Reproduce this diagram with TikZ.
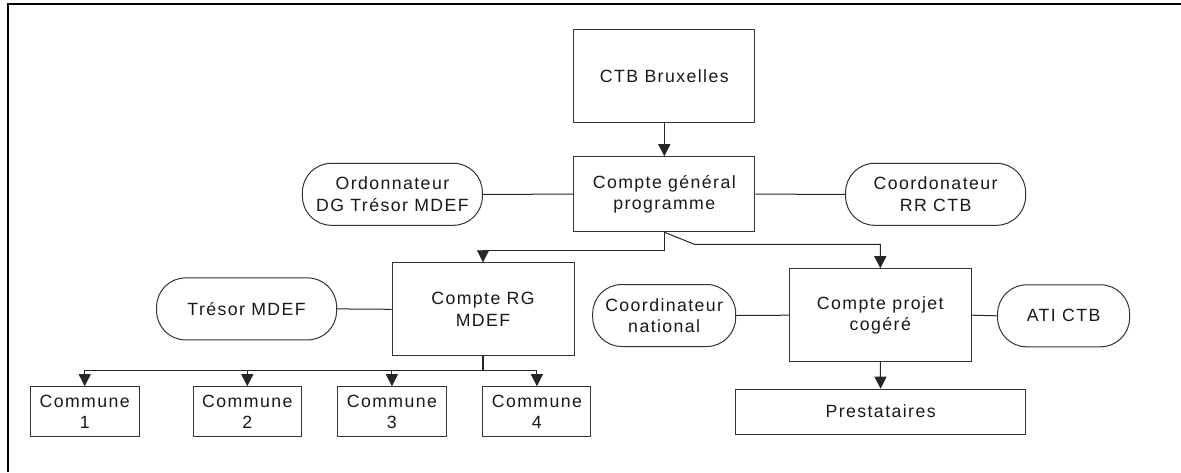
\documentclass[tikz,border=0pt]{standalone}
\usepackage{fontspec}
\setmainfont{Liberation Sans}[LetterSpace=8]
\usetikzlibrary{arrows.meta}
\begin{document}
\begin{tikzpicture}[x=1pt,y=-1pt,
  every node/.style={font=\fontsize{17.7}{21.5}\selectfont, text=black!90, align=center, inner sep=0pt},
  box/.style={draw=black!80, line width=1pt, rectangle},
  pill/.style={draw=black!80, line width=1pt, rectangle, rounded corners=29pt},
  lnk/.style={draw=black!85, line width=1pt},
  arr/.style={lnk, -{Triangle[length=12pt,width=12pt]}}]
\useasboundingbox (0,0) rectangle (1181,472);
\fill[white] (0,0) rectangle (1181,472);
\draw[line width=2.5pt] (8,472) -- (8,4) -- (1181,4);

\node[box, minimum width=181pt, minimum height=93pt] (ctb) at (664.3,76) {CTB Bruxelles};
\node[box, minimum width=181pt, minimum height=75pt] (cg) at (664.3,194.2) {Compte général\\programme};
\node[pill, minimum width=180pt, minimum height=62pt] (ord) at (392.4,194.3) {Ordonnateur\\DG Trésor MDEF};
\node[pill, minimum width=180pt, minimum height=62pt] (coord) at (935.6,194.3) {Coordonateur\\RR CTB};
\node[box, minimum width=182pt, minimum height=93pt] (crg) at (483,309.3) {Compte RG\\MDEF};
\node[pill, minimum width=180pt, minimum height=62pt] (tres) at (246.6,308.9) {Trésor MDEF};
\node[box, minimum width=182pt, minimum height=93pt] (cp) at (880.3,315.2) {Compte projet\\cogéré};
\node[pill, minimum width=143pt, minimum height=62pt] (cn) at (664.2,315.5) {Coordinateur\\national};
\node[pill, minimum width=132pt, minimum height=62pt] (ati) at (1063.6,315.8) {ATI CTB};
\node[box, minimum width=290pt, minimum height=45pt] (prest) at (880.6,411.6) {Prestataires};
\node[box, minimum width=109pt, minimum height=50pt] (c1) at (84.7,411.7) {Commune\\1};
\node[box, minimum width=108pt, minimum height=50pt] (c2) at (247.3,411.7) {Commune\\2};
\node[box, minimum width=109pt, minimum height=50pt] (c3) at (391.9,411.7) {Commune\\3};
\node[box, minimum width=108pt, minimum height=50pt] (c4) at (536.9,411.7) {Commune\\4};

\draw[arr] (ctb.south) -- (cg.north);
\draw[lnk] (ord.east) -- (cg.west);
\draw[lnk] (cg.east) -- (coord.west);
\draw[lnk] (tres.east) -- (crg.west);
\draw[lnk] (cn.east) -- (cp.west);
\draw[lnk] (cp.east) -- (ati.west);

\coordinate (j1) at (664.3,250);
\coordinate (j2) at (694.3,244.3);
\draw[arr] (cg.south) -- (j1) -| (crg.north);
\draw[arr] (cg.south) -- (j2) -| (cp.north);
\draw[arr] (cp.south) -- (prest.north);

\coordinate (bus) at (483,370.7);
\draw[lnk, line width=1.6pt] (crg.south) -- (bus);
\draw[arr] (bus) -| (c1.north);
\draw[arr] (bus) -| (c2.north);
\draw[arr] (bus) -| (c3.north);
\draw[arr] (bus) -| (c4.north);
\end{tikzpicture}
\end{document}
